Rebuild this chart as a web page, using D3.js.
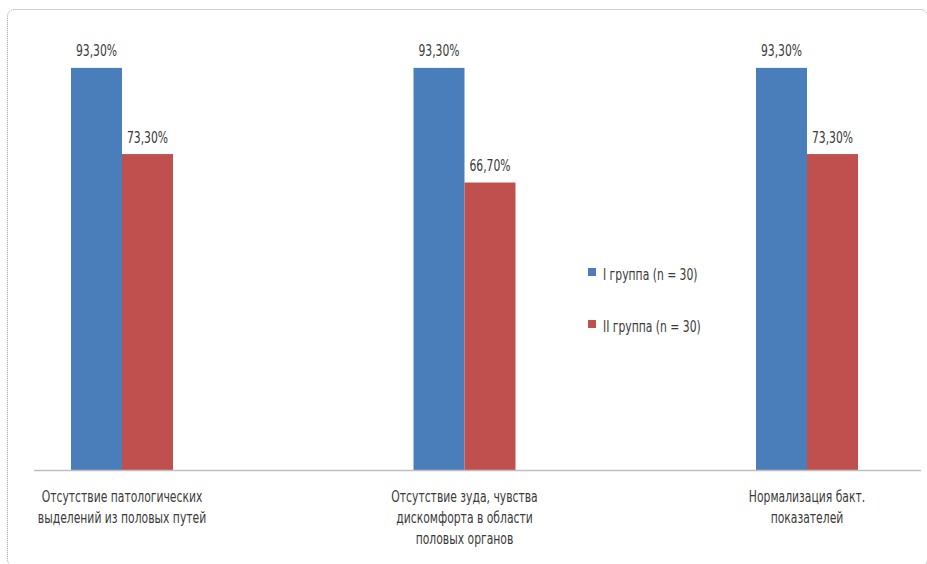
<!DOCTYPE html>
<html>
<head>
<meta charset="utf-8">
<script src="https://cdn.jsdelivr.net/npm/d3@7"></script>
<style>
  html, body { margin: 0; padding: 0; background: #fff; }
  svg { display: block; font-family: "Liberation Sans Narrow", "DejaVu Sans Condensed", "Roboto", sans-serif; }
</style>
</head>
<body>
<svg id="chart" width="927" height="564"></svg>
<script>
// --- Data ------------------------------------------------------------------
const categories = [
  ["Отсутствие патологических", "выделений из половых путей"],
  ["Отсутствие зуда, чувства", "дискомфорта в области", "половых органов"],
  ["Нормализация бакт.", "показателей"]
];
const seriesNames = ["I группа (n = 30)", "II группа (n = 30)"];
const group1 = [93.3, 93.3, 93.3];
const group2 = [73.3, 66.7, 73.3];
const colors = ["#4a7ebb", "#c0504d"];

const fmt = v => v.toFixed(2).replace(".", ",") + "%";

// --- Chart -----------------------------------------------------------------
const svg = d3.select("#chart");
const base = 470;
const textColor = "#3a3a3a";
const fs = 15, squeeze = 0.8; // narrow look of the original condensed face

// outer dotted frame (right and bottom edges fall just outside the picture)
svg.append("rect")
  .attr("x", 7.5).attr("y", 9.5)
  .attr("width", 920).attr("height", 557)
  .attr("rx", 7)
  .attr("fill", "none")
  .attr("stroke", "#a0a0a0")
  .attr("stroke-width", 1)
  .attr("stroke-dasharray", "1,1");

const idx = d3.range(categories.length);
const x = d3.scalePoint().domain(idx).range([122, 807]);
const y = d3.scaleLinear().domain([0, 100]).range([base, 39]);
const barW = 51;

const series = [group1, group2];
series.forEach((vals, s) => {
  const g = svg.append("g");
  g.selectAll("rect")
    .data(vals).enter()
    .append("rect")
    .attr("x", (d, i) => x(i) + (s === 0 ? -barW : 0))
    .attr("y", d => y(d))
    .attr("width", barW)
    .attr("height", d => base - y(d))
    .attr("fill", colors[s]);
  g.selectAll("text")
    .data(vals).enter()
    .append("text")
    .attr("transform", (d, i) =>
      `translate(${x(i) + (s === 0 ? -barW / 2 : barW / 2)},${y(d) - 11.5}) scale(${squeeze},1)`)
    .attr("text-anchor", "middle")
    .attr("font-size", fs)
    .attr("fill", textColor)
    .text(fmt);
});

// category axis
svg.append("line")
  .attr("x1", 34).attr("x2", 921)
  .attr("y1", base + 0.5).attr("y2", base + 0.5)
  .attr("stroke", "#bfbfbf").attr("stroke-width", 1.5);

const lab = svg.append("g").selectAll("text")
  .data(categories).enter()
  .append("text")
  .attr("transform", (d, i) => `translate(${x(i)},0) scale(${squeeze},1)`)
  .attr("text-anchor", "middle")
  .attr("font-size", fs)
  .attr("fill", textColor);
lab.each(function(lines) {
  d3.select(this).selectAll("tspan")
    .data(lines).enter()
    .append("tspan")
    .attr("x", 0)
    .attr("y", (d, j) => 502 + j * 21)
    .text(d => d);
});

// legend
const leg = svg.append("g").attr("transform", "translate(588,268)");
seriesNames.forEach((name, s) => {
  leg.append("rect")
    .attr("x", 0).attr("y", s * 52)
    .attr("width", 8).attr("height", 8)
    .attr("fill", colors[s]);
  leg.append("text")
    .attr("transform", `translate(15,${s * 52 + 12}) scale(${squeeze},1)`)
    .attr("font-size", fs)
    .attr("fill", textColor)
    .text(name);
});
</script>
</body>
</html>
